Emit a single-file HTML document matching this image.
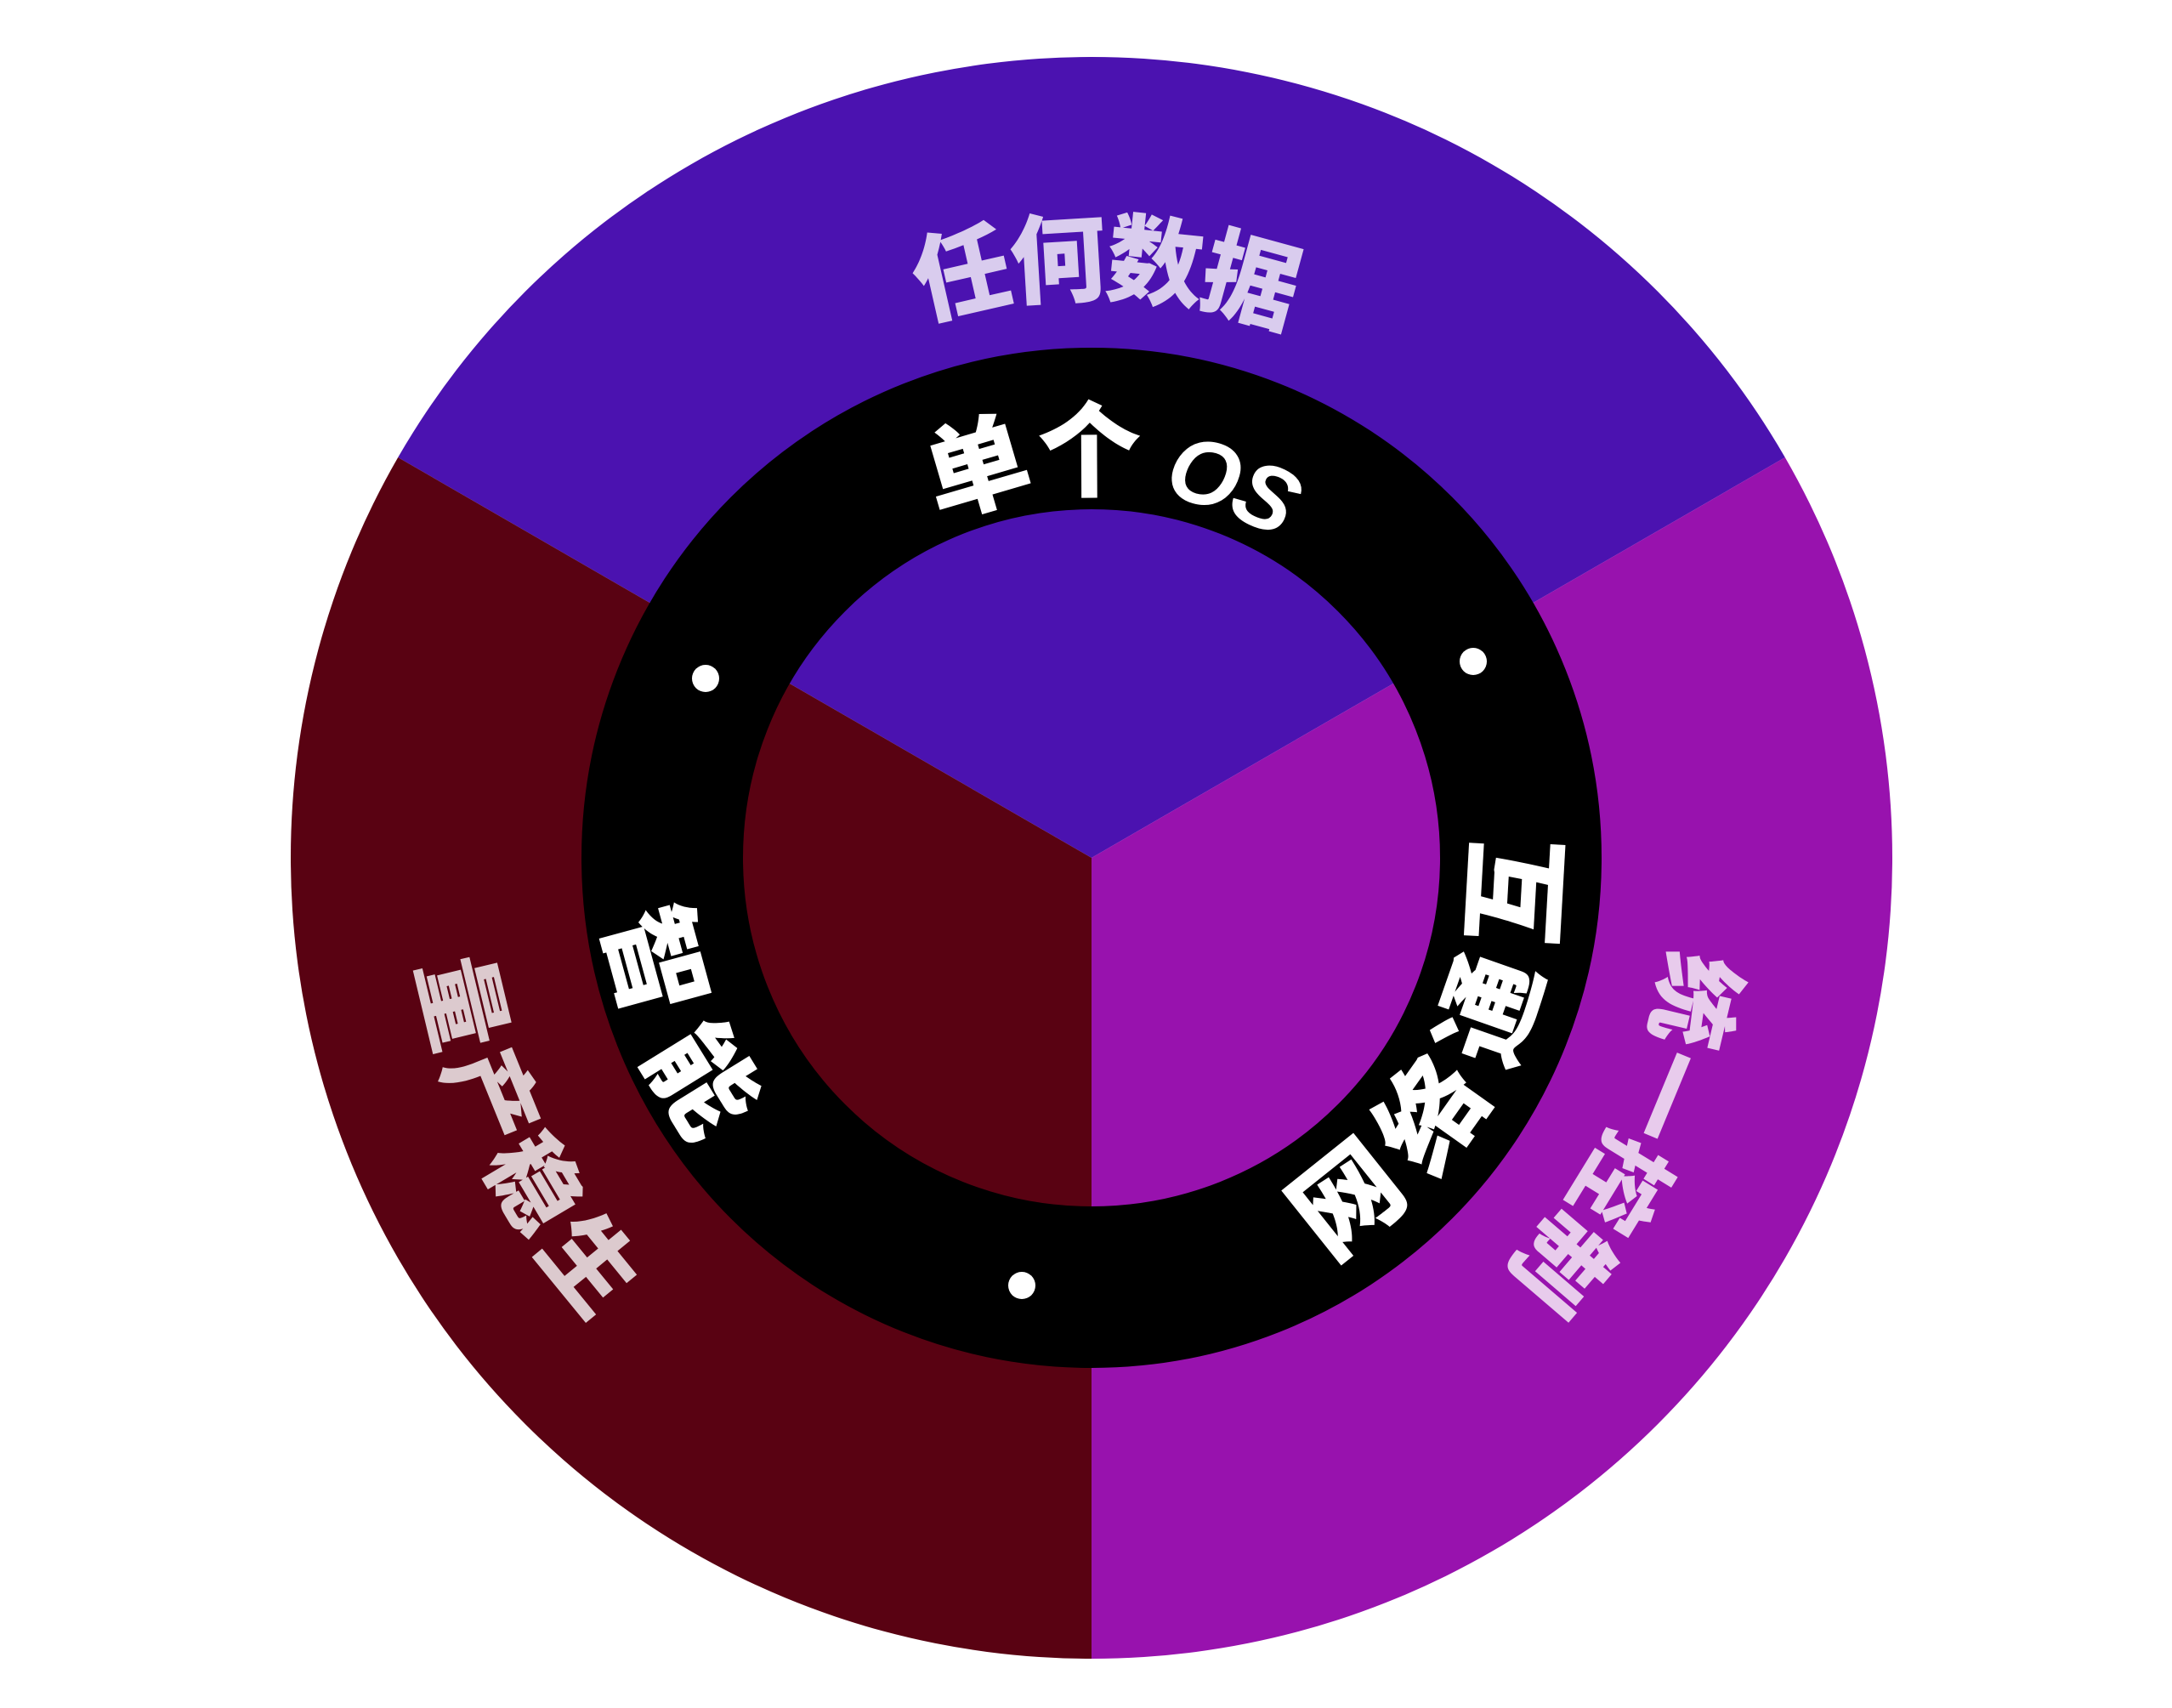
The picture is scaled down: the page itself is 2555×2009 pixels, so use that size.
<!DOCTYPE html>
<html><head><meta charset="utf-8"><style>
html,body{margin:0;padding:0;background:#fff;}
svg{display:block;}
text{font-family:"Liberation Sans","Noto Sans CJK SC",sans-serif;font-weight:900;}
</style></head><body>
<svg width="2555" height="2009" viewBox="0 0 2555 2009" xmlns="http://www.w3.org/2000/svg">
<defs>
<path id="p1" d="M624.3,989.4 A660,660 0 0 1 1944,1017.1"/>
<path id="p2" d="M1600,388.9 A696,696 0 0 1 968,1629.1"/>
<path id="p3" d="M925.6,287.1 A806,806 0 0 0 1642.4,1730.9"/>
<path id="p4" d="M849,983 A435,435 0 0 1 1718,1036"/>
<path id="p5" d="M1031.7,1497.7 A550,550 0 0 0 1536.3,520.3"/>
<path id="p6" d="M1055.9,484.4 A572,572 0 0 0 1512.1,1533.6"/>
</defs>
<path d="M1284,1009 L468.2,538 A942,942 0 0 1 2099.8,538 Z" fill="#4B12B0"/>
<path d="M1284,1009 L2099.8,538 A942,942 0 0 1 1284,1951 Z" fill="#9812AE"/>
<path d="M1284,1009 L1284,1951 A942,942 0 0 1 468.2,538 Z" fill="#590212"/>
<circle cx="1284" cy="1009" r="505" fill="none" stroke="#000" stroke-width="190"/>
<circle cx="830" cy="798" r="16" fill="#fff"/>
<circle cx="1733" cy="778" r="16" fill="#fff"/>
<circle cx="1202" cy="1512" r="16" fill="#fff"/>

<text font-size="114" fill="#D9CCEE" letter-spacing="-6"><textPath href="#p1" startOffset="50%" text-anchor="middle">任何数据</textPath></text>
<text font-size="110" fill="#E8CBEC" letter-spacing="0"><textPath href="#p2" startOffset="50%" text-anchor="middle">统一控制</textPath></text>
<text font-size="110" fill="#DCCACE" letter-spacing="11"><textPath href="#p3" startOffset="50%" text-anchor="middle">量产稳生</textPath></text>

<text font-size="122" fill="#fff" letter-spacing="0"><textPath href="#p4" startOffset="49.6%" text-anchor="middle">单个<tspan font-style="italic" font-size="108" letter-spacing="-6"> OS</tspan></textPath></text>
<text font-size="126" fill="#fff" letter-spacing="28"><textPath href="#p5" startOffset="50%" text-anchor="middle">网络通互</textPath></text>
<text font-size="126" fill="#fff" letter-spacing="38"><textPath href="#p6" startOffset="50%" text-anchor="middle">智能</textPath></text>
</svg>
</body></html>
